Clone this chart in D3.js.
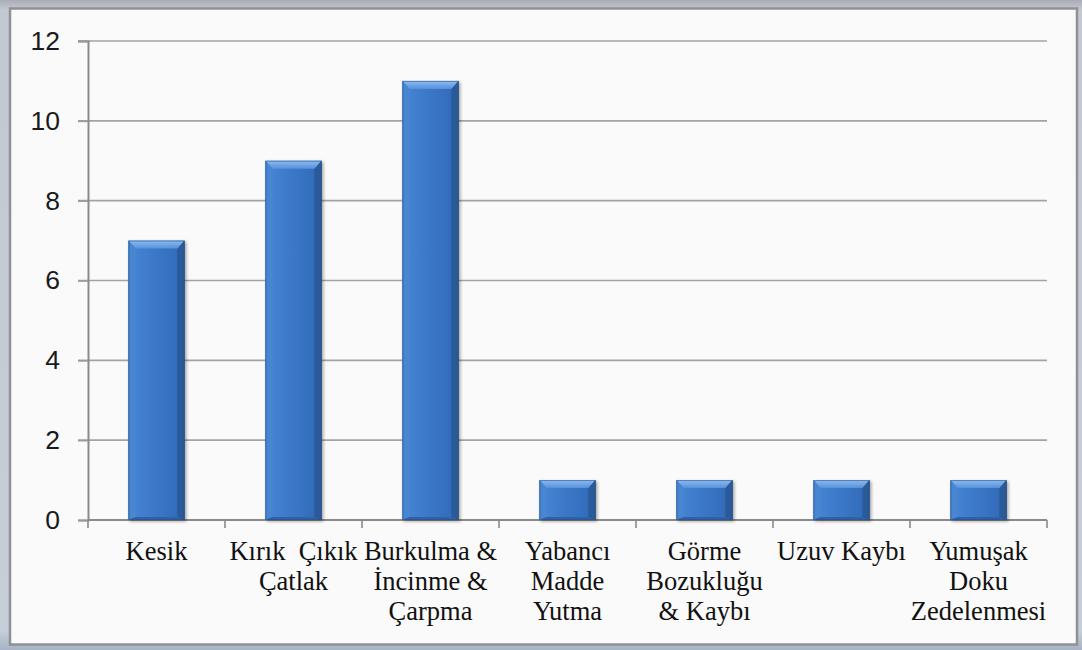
<!DOCTYPE html>
<html>
<head>
<meta charset="utf-8">
<script src="https://cdn.jsdelivr.net/npm/d3@7"></script>
<style>
  html, body { margin: 0; padding: 0; background: #fff; }
  svg { display: block; }
</style>
</head>
<body>
<svg id="chart" width="1082" height="650"></svg>
<script>
// ---- data ----
const categories = ["Kesik", "Kırık  Çıkık Çatlak", "Burkulma & İncinme & Çarpma", "Yabancı Madde Yutma", "Görme Bozukluğu & Kaybı", "Uzuv Kaybı", "Yumuşak Doku Zedelenmesi"];
const labelLines = [
  ["Kesik"],
  ["Kırık\u00a0\u00a0Çıkık", "Çatlak"],
  ["Burkulma &", "İncinme &", "Çarpma"],
  ["Yabancı", "Madde", "Yutma"],
  ["Görme", "Bozukluğu", "& Kaybı"],
  ["Uzuv Kaybı"],
  ["Yumuşak", "Doku", "Zedelenmesi"]
];
const values = [7, 9, 11, 1, 1, 1, 1];
const yTicks = [0, 2, 4, 6, 8, 10, 12];

// ---- layout ----
const W = 1082, H = 650;
const plot = { left: 88, right: 1047, top: 41, bottom: 520 };

const svg = d3.select("#chart");
const defs = svg.append("defs");

// frame background
const bgGrad = defs.append("linearGradient").attr("id", "bgGrad").attr("x1", 0).attr("y1", 0).attr("x2", 0).attr("y2", 1);
bgGrad.append("stop").attr("offset", "0").attr("stop-color", "#a9adb5");
bgGrad.append("stop").attr("offset", "0.015").attr("stop-color", "#c4c8d0");
bgGrad.append("stop").attr("offset", "0.97").attr("stop-color", "#c6ced8");
bgGrad.append("stop").attr("offset", "1").attr("stop-color", "#a6b4c6");
svg.append("rect").attr("x", 0).attr("y", 0).attr("width", W).attr("height", H).attr("fill", "url(#bgGrad)");

svg.append("rect")
  .attr("x", 10).attr("y", 8.5).attr("width", 1067).attr("height", 636)
  .attr("fill", "#fafafa").attr("stroke", "#8f9196").attr("stroke-width", 2.5);

// scales
const x = d3.scaleBand().domain(categories).range([plot.left, plot.right]).paddingInner(0.59).paddingOuter(0.295);
const y = d3.scaleLinear().domain([0, 12]).range([plot.bottom, plot.top]);

// gridlines
svg.append("g").selectAll("line").data(yTicks.filter(d => d > 0)).join("line")
  .attr("x1", plot.left - 10).attr("x2", plot.right)
  .attr("y1", d => y(d)).attr("y2", d => y(d))
  .attr("stroke", "#a3a3a3").attr("stroke-width", 1.6);

// y axis
const yAxis = d3.axisLeft(y).tickValues(yTicks).tickSize(10).tickPadding(18).tickFormat(d3.format("d"));
const gy = svg.append("g").attr("transform", `translate(${plot.left},0)`).call(yAxis);
gy.select(".domain").attr("stroke", "#8a8a8a").attr("stroke-width", 2);
gy.selectAll(".tick line").attr("stroke", "#9a9a9a").attr("stroke-width", 1.6);
gy.selectAll(".tick text")
  .attr("font-family", "'Liberation Sans', Arial, sans-serif")
  .attr("font-size", 26.5).attr("fill", "#1a1a1a");

// x axis
const xAxis = d3.axisBottom(x).tickSize(0).tickFormat("");
const gx = svg.append("g").attr("transform", `translate(0,${plot.bottom})`).call(xAxis);
gx.select(".domain").attr("stroke", "#8a8a8a").attr("stroke-width", 2).attr("d", `M${plot.left},0H${plot.right}`);
gx.selectAll(".tick").remove();
const boundaries = d3.range(categories.length + 1).map(i => plot.left + i * x.step());
gx.selectAll("line.bt").data(boundaries).join("line").attr("class", "bt")
  .attr("x1", d => d).attr("x2", d => d).attr("y1", 0).attr("y2", 8)
  .attr("stroke", "#8a8a8a").attr("stroke-width", 1.6);

// bar gradients
const face = defs.append("linearGradient").attr("id", "face").attr("x1", 0).attr("x2", 1).attr("y1", 0).attr("y2", 0);
[["0", "#3a6fb5"], ["0.12", "#4582d2"], ["0.45", "#3c78c8"], ["0.85", "#336dbb"], ["0.95", "#285898"], ["1", "#17345e"]]
  .forEach(s => face.append("stop").attr("offset", s[0]).attr("stop-color", s[1]));
const topG = defs.append("linearGradient").attr("id", "topG").attr("x1", 0).attr("x2", 0).attr("y1", 0).attr("y2", 1);
topG.append("stop").attr("offset", "0").attr("stop-color", "#8dbdf2");
topG.append("stop").attr("offset", "1").attr("stop-color", "#5590da");
const filt = defs.append("filter").attr("id", "shadow").attr("x", "-20%").attr("y", "-10%").attr("width", "140%").attr("height", "130%");
filt.append("feDropShadow").attr("dx", 1.5).attr("dy", 1.5).attr("stdDeviation", 1.5).attr("flood-color", "#000").attr("flood-opacity", 0.35);

const data = categories.map((c, i) => ({ c, v: values[i] }));
const bars = svg.append("g").selectAll("g").data(data).join("g").attr("filter", "url(#shadow)");
const b = 7;
bars.append("rect")
  .attr("x", d => x(d.c)).attr("y", d => y(d.v))
  .attr("width", x.bandwidth()).attr("height", d => y(0) - y(d.v))
  .attr("fill", "url(#face)");
// top bevel
bars.append("path").attr("fill", "url(#topG)").attr("d", d => {
  const x0 = x(d.c), x1 = x0 + x.bandwidth(), y0 = y(d.v);
  return `M${x0},${y0}H${x1}L${x1 - b},${y0 + b + 1}H${x0 + b}Z`;
});
// left bevel
bars.append("path").attr("fill", "#4a86d2").attr("d", d => {
  const x0 = x(d.c), y0 = y(d.v), y1 = y(0);
  return `M${x0},${y0}L${x0 + b},${y0 + b + 1}V${y1 - 3}L${x0},${y1}Z`;
});
// right bevel
bars.append("path").attr("fill", "#2a5a98").attr("d", d => {
  const x1 = x(d.c) + x.bandwidth(), y0 = y(d.v), y1 = y(0);
  return `M${x1},${y0}L${x1 - b},${y0 + b + 1}V${y1 - 3}L${x1},${y1}Z`;
});
// bottom bevel
bars.append("path").attr("fill", "#2f62a6").attr("d", d => {
  const x0 = x(d.c), x1 = x0 + x.bandwidth(), y1 = y(0);
  return `M${x0},${y1}L${x0 + b},${y1 - 3}H${x1 - b}L${x1},${y1}Z`;
});
// outline
bars.append("rect")
  .attr("x", d => x(d.c) + 0.5).attr("y", d => y(d.v) + 0.5)
  .attr("width", x.bandwidth() - 1).attr("height", d => y(0) - y(d.v) - 1)
  .attr("fill", "none").attr("stroke", "#2c5488").attr("stroke-width", 1).attr("stroke-opacity", 0.6);

// x labels
const lg = svg.append("g").attr("font-family", "'Liberation Serif', 'Times New Roman', serif")
  .attr("font-size", 26.5).attr("fill", "#111").attr("text-anchor", "middle");
categories.forEach((c, i) => {
  const cx = x(c) + x.bandwidth() / 2;
  const t = lg.append("text").attr("x", cx).attr("y", 560);
  labelLines[i].forEach((ln, j) => {
    t.append("tspan").attr("x", cx).attr("y", 560 + j * 30).text(ln);
  });
});
</script>
</body>
</html>
